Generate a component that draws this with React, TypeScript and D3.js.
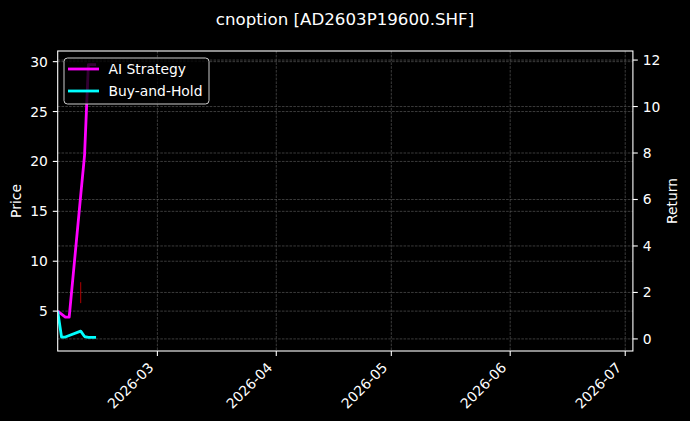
import React from "react";
import * as d3 from "d3";

const dates = ["2026-02-03", "2026-02-04", "2026-02-05", "2026-02-06", "2026-02-09", "2026-02-10", "2026-02-11", "2026-02-12", "2026-02-13"];
const aiStrategy = [5.0, 4.7, 4.4, 4.4, 16.6, 20.6, 29.7, 29.7, 29.7];
const buyAndHold = [5.0, 2.4, 2.4, 2.55, 3.0, 2.45, 2.37, 2.37, 2.37];
const signalDates = ["2026-02-09"];
const signalLow = [5.8];
const signalHigh = [7.9];
const priceTicks = [5, 10, 15, 20, 25, 30];
const returnTicks = [0, 2, 4, 6, 8, 10, 12];
const returnDomain = [-0.52, 12.39];
const monthTicks = ["2026-03-01", "2026-04-01", "2026-05-01", "2026-06-01", "2026-07-01"];
const xStart = "2026-02-03";
const xSpanDays = 150;
const title = "cnoption [AD2603P19600.SHF]";

const W = 690, H = 421;
const M = { left: 57.7, right: 632.9, top: 51, bottom: 351 };
const FONT = "DejaVu Sans, sans-serif";

export default function App() {
  const parse = d3.utcParse("%Y-%m-%d");
  const fmt = d3.utcFormat("%Y-%m");
  const x0 = parse(xStart)!;
  const x = d3.scaleUtc().domain([x0, d3.utcDay.offset(x0, xSpanDays)]).range([M.left, M.right]);
  const all = [...aiStrategy, ...buyAndHold];
  const [mn, mx] = d3.extent(all) as [number, number];
  const pad = (mx - mn) * 0.05;
  const y = d3.scaleLinear().domain([mn - pad, mx + pad]).range([M.bottom, M.top]);
  const yR = d3.scaleLinear().domain(returnDomain).range([M.bottom, M.top]);
  const pts = dates.map((d) => parse(d)!);
  const line = (vals: number[]) =>
    d3.line<number>().x((_, i) => x(pts[i])).y((v) => y(v))(vals) || "";

  const gridStyle = { stroke: "#555", strokeWidth: 0.7, strokeDasharray: "2.6,1.2" };
  const tick = 4.9;

  return (
    <svg width={W} height={H} style={{ position: "absolute", left: 0, top: 0, background: "#000" }} fontFamily={FONT}>
      <rect x={0} y={0} width={W} height={H} fill="#000" />
      <text x={W / 2} y={25} fill="#fff" fontSize={16.67} textAnchor="middle">{title}</text>
      {/* grids */}
      {monthTicks.map((m) => (
        <line key={"gx" + m} x1={x(parse(m)!)} x2={x(parse(m)!)} y1={M.top} y2={M.bottom} {...gridStyle} />
      ))}
      {priceTicks.map((t) => (
        <line key={"gy" + t} x1={M.left} x2={M.right} y1={y(t)} y2={y(t)} {...gridStyle} />
      ))}
      {returnTicks.map((t) => (
        <line key={"gr" + t} x1={M.left} x2={M.right} y1={yR(t)} y2={yR(t)} {...gridStyle} />
      ))}
      <defs>
        <clipPath id="plotclip">
          <rect x={M.left} y={M.top} width={M.right - M.left} height={M.bottom - M.top} />
        </clipPath>
      </defs>
      <g clipPath="url(#plotclip)">
        {signalDates.map((d, i) => (
          <line key={"s" + d} x1={x(parse(d)!)} x2={x(parse(d)!)} y1={y(signalLow[i])} y2={y(signalHigh[i])} stroke="#d00000" strokeWidth={1} opacity={0.85} />
        ))}
        <path d={line(aiStrategy)} fill="none" stroke="#ff00ff" strokeWidth={2.8} strokeLinejoin="round" />
        <path d={line(buyAndHold)} fill="none" stroke="#00ffff" strokeWidth={2.8} strokeLinejoin="round" />
      </g>
      {/* spines */}
      <rect x={M.left} y={M.top} width={M.right - M.left} height={M.bottom - M.top} fill="none" stroke="#fff" strokeWidth={1.1} />
      {/* left axis */}
      {priceTicks.map((t) => (
        <g key={"ly" + t}>
          <line x1={M.left - tick} x2={M.left} y1={y(t)} y2={y(t)} stroke="#fff" strokeWidth={1.1} />
          <text x={M.left - tick - 4.9} y={y(t)} dy="0.36em" fill="#fff" fontSize={13.89} textAnchor="end">{t}</text>
        </g>
      ))}
      {/* right axis */}
      {returnTicks.map((t) => (
        <g key={"ry" + t}>
          <line x1={M.right} x2={M.right + tick} y1={yR(t)} y2={yR(t)} stroke="#fff" strokeWidth={1.1} />
          <text x={M.right + tick + 4.9} y={yR(t)} dy="0.36em" fill="#fff" fontSize={13.89} textAnchor="start">{t}</text>
        </g>
      ))}
      {/* x axis */}
      {monthTicks.map((m) => {
        const px = x(parse(m)!);
        return (
          <g key={"xt" + m}>
            <line x1={px} x2={px} y1={M.bottom} y2={M.bottom + tick} stroke="#fff" strokeWidth={1.1} />
            <text transform={`translate(${px - 3},${M.bottom + 17.5}) rotate(-45)`} fill="#fff" fontSize={13.89} textAnchor="end">{fmt(parse(m)!)}</text>
          </g>
        );
      })}
      <text transform={`translate(21,${(M.top + M.bottom) / 2}) rotate(-90)`} fill="#fff" fontSize={13.89} textAnchor="middle">Price</text>
      <text transform={`translate(677,${(M.top + M.bottom) / 2}) rotate(-90)`} fill="#fff" fontSize={13.89} textAnchor="middle">Return</text>
      {/* legend */}
      <g>
        <rect x={64} y={58} width={145} height={46} rx={3.5} fill="#000" fillOpacity={0.8} stroke="#cccccc" strokeWidth={1} />
        <line x1={68} x2={99} y1={69} y2={69} stroke="#ff00ff" strokeWidth={2.8} />
        <text x={108.5} y={69} dy="0.36em" fill="#fff" fontSize={13.89}>AI Strategy</text>
        <line x1={68} x2={99} y1={91} y2={91} stroke="#00ffff" strokeWidth={2.8} />
        <text x={108.5} y={91} dy="0.36em" fill="#fff" fontSize={13.89}>Buy-and-Hold</text>
      </g>
    </svg>
  );
}
